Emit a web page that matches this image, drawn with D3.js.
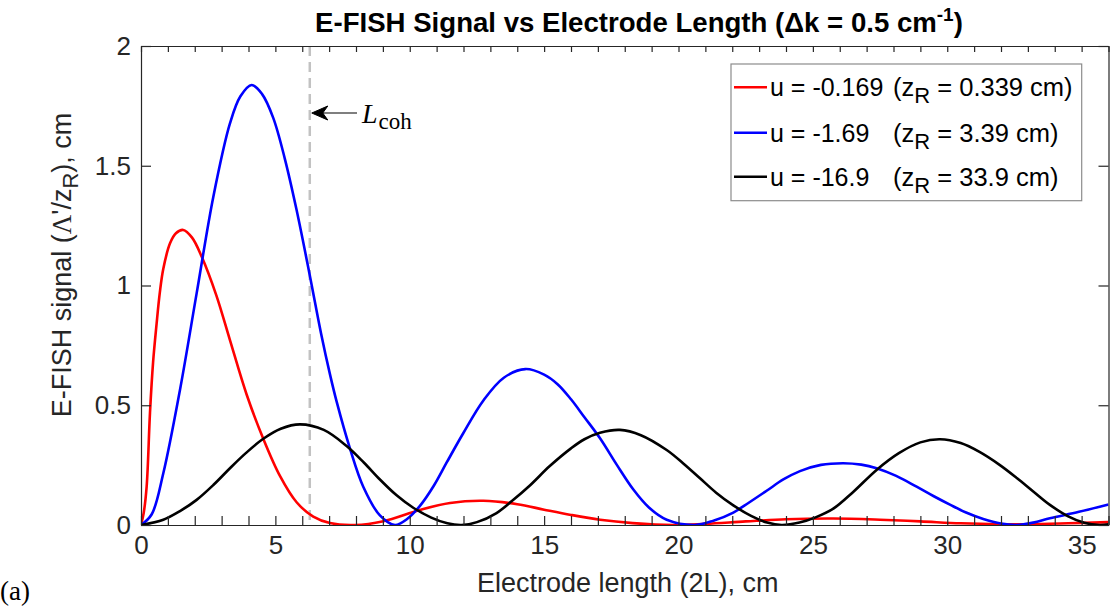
<!DOCTYPE html>
<html><head><meta charset="utf-8">
<script src="https://cdn.jsdelivr.net/npm/d3@7/dist/d3.min.js"></script>
<style>body{margin:0;background:#fff}svg{display:block}</style>
</head><body><svg id="c" width="1115" height="606"></svg>
<script>
// ---- data ----
const xDomain = [0, 36];
const yDomain = [0, 2];
const xTickValues = d3.range(0, 37, 1);
const xLabelValues = [0, 5, 10, 15, 20, 25, 30, 35];
const yTickValues = [0, 0.5, 1, 1.5, 2];
const lCoh = 6.28;

const seriesNames = ["u = -0.169", "u = -1.69", "u = -16.9"];
const seriesZR = ["0.339", "3.39", "33.9"];
const seriesColors = ["#ff0000", "#0000ff", "#000000"];

const redValues = [[0,0],[0.1,0.05],[0.21,0.16],[0.335,0.47],[0.45,0.68],[0.58,0.84],[0.7,0.97],[0.83,1.07],[1.08,1.176],[1.3,1.218],[1.57,1.232],[1.9,1.2],[2.26,1.12],[2.8,0.96],[3.31,0.772],[3.93,0.545],[4.55,0.36],[5.17,0.205],[5.79,0.095],[6.41,0.035],[7.03,0.008],[7.96,0],[9.02,0.016],[10.38,0.063],[11.5,0.092],[12.74,0.101],[14,0.087],[15,0.064],[16,0.042],[17.08,0.022],[18.3,0.008],[19.8,0],[21,0.005],[22.5,0.015],[24,0.024],[25.75,0.027],[27.5,0.022],[29,0.015],[30.5,0.007],[31.96,0.003],[33,0.003],[34.5,0.007],[36,0.012]];

const blueValues = [[0,0],[0.4,0.045],[0.83,0.216],[1.45,0.564],[2.07,0.967],[2.69,1.37],[3.31,1.677],[3.7,1.79],[4.12,1.837],[4.5,1.8],[4.92,1.7],[5.35,1.53],[5.79,1.315],[6.29,1.037],[6.7,0.8],[7.03,0.63],[7.28,0.515],[7.78,0.318],[8.27,0.16],[8.89,0.04],[9.45,0],[9.9,0.025],[10.38,0.08],[10.9,0.165],[11.37,0.26],[11.99,0.383],[12.74,0.52],[13.5,0.615],[14.3,0.651],[15,0.628],[15.5,0.588],[16,0.525],[16.5,0.45],[17.08,0.362],[17.7,0.252],[18.32,0.148],[18.9,0.073],[19.56,0.022],[20.61,0],[21.3,0.018],[22.04,0.052],[22.6,0.092],[23.28,0.143],[23.9,0.19],[24.52,0.225],[25.3,0.251],[26.13,0.258],[26.8,0.252],[27.37,0.237],[28.1,0.205],[28.86,0.16],[29.5,0.12],[30.1,0.085],[30.7,0.052],[31.34,0.025],[32,0.006],[32.58,0],[33.2,0.01],[33.82,0.028],[34.9,0.055],[36,0.086]];

const blackValues = [[0,0],[0.83,0.022],[1.45,0.058],[2.07,0.105],[2.7,0.168],[3.31,0.237],[3.9,0.3],[4.55,0.36],[5.2,0.402],[5.92,0.42],[6.8,0.397],[7.65,0.33],[8.3,0.26],[8.89,0.19],[9.5,0.125],[10.13,0.072],[10.8,0.031],[11.4,0.007],[11.93,0],[12.5,0.012],[13.23,0.05],[13.8,0.1],[14.47,0.165],[15.2,0.245],[16,0.32],[16.5,0.358],[17.08,0.385],[17.82,0.397],[18.6,0.375],[19.56,0.313],[20.2,0.255],[20.8,0.195],[21.4,0.135],[22.04,0.082],[22.7,0.038],[23.3,0.01],[23.84,0],[24.5,0.01],[25.1,0.032],[25.76,0.068],[26.5,0.138],[27.37,0.23],[28.2,0.3],[29,0.345],[29.73,0.358],[30.5,0.342],[31.2,0.305],[31.96,0.25],[32.6,0.195],[33.2,0.14],[33.82,0.084],[34.5,0.036],[35.1,0.009],[35.68,0],[36,0.003]];

const seriesValues = [redValues, blueValues, blackValues];

// ---- layout ----
const W = 1115, H = 606;
const m = {left: 141, right: 1108.5, top: 46, bottom: 525};
const FONT = "'Liberation Sans', Arial, Helvetica, sans-serif";
const SERIF = "'Liberation Serif', 'Times New Roman', serif";
const axisColor = "#262626";

const svg = d3.select("#c");
svg.append("rect").attr("width", W).attr("height", H).attr("fill", "#fff");

const x = d3.scaleLinear().domain(xDomain).range([m.left, m.right]);
const y = d3.scaleLinear().domain(yDomain).range([m.bottom, m.top]);

svg.append("clipPath").attr("id", "clip").append("rect")
  .attr("x", m.left).attr("y", m.top - 2).attr("width", m.right - m.left).attr("height", m.bottom - m.top + 3);

// dashed coherence line
svg.append("line")
  .attr("x1", x(lCoh)).attr("x2", x(lCoh)).attr("y1", y(2)).attr("y2", y(0))
  .attr("stroke", "#c2c2c2").attr("stroke-width", 2.5).attr("stroke-dasharray", "10,6");

// curves
const line = d3.line().x(d => x(d[0])).y(d => y(Math.max(0, d[1]))).curve(d3.curveCatmullRom.alpha(0.5));
const gLines = svg.append("g").attr("clip-path", "url(#clip)");
seriesValues.forEach((vals, i) => {
  gLines.append("path").datum(vals).attr("d", line)
    .attr("fill", "none").attr("stroke", seriesColors[i]).attr("stroke-width", 2.6)
    .attr("stroke-linejoin", "round");
});

// axes (box with inward ticks)
const axB = d3.axisBottom(x).tickValues(xTickValues).tickSizeInner(-9).tickSizeOuter(0)
  .tickFormat(d => xLabelValues.includes(d) ? d : "");
const axT = d3.axisTop(x).tickValues(xTickValues).tickSizeInner(-6).tickSizeOuter(0).tickFormat("");
const axL = d3.axisLeft(y).tickValues(yTickValues).tickSizeInner(-10).tickSizeOuter(0)
  .tickFormat(d => d3.format("")(d));
const axR = d3.axisRight(y).tickValues(yTickValues).tickSizeInner(-10).tickSizeOuter(0).tickFormat("");

function style(g) {
  g.select(".domain").attr("stroke", axisColor).attr("stroke-width", 1.2);
  g.selectAll(".tick line").attr("stroke", axisColor).attr("stroke-width", 1.2);
  g.selectAll(".tick text").attr("fill", axisColor).style("font-family", FONT).style("font-size", "26px");
}
svg.append("g").attr("transform", `translate(0,${m.bottom})`).call(axB).call(style)
  .selectAll(".tick text").attr("dy", "0.95em").attr("y", 4);
svg.append("g").attr("transform", `translate(0,${m.top})`).call(axT).call(style);
svg.append("g").attr("transform", `translate(${m.left},0)`).call(axL).call(style)
  .selectAll(".tick text").attr("x", -10);
svg.append("g").attr("transform", `translate(${m.right},0)`).call(axR).call(style);

// title
const title = svg.append("text").attr("x", 639).attr("y", 32).attr("text-anchor", "middle")
  .style("font-family", FONT).style("font-size", "27.6px").style("font-weight", "bold").attr("fill", "#000");
title.append("tspan").text("E-FISH Signal vs Electrode Length (\u0394k = 0.5 cm");
title.append("tspan").text("-1").attr("dy", -11).style("font-size", "19px");
title.append("tspan").text(")").attr("dy", 11);

// axis labels
svg.append("text").attr("x", (m.left + m.right) / 2 + 3).attr("y", 592).attr("text-anchor", "middle")
  .style("font-family", FONT).style("font-size", "27px").attr("fill", axisColor)
  .text("Electrode length (2L), cm");

const yl = svg.append("text").attr("transform", "translate(71,265) rotate(-90)").attr("text-anchor", "middle")
  .style("font-family", FONT).style("font-size", "27px").attr("fill", axisColor);
yl.append("tspan").text("E-FISH signal (");
yl.append("tspan").text("\u039B").style("font-family", SERIF);
yl.append("tspan").text("'/z");
yl.append("tspan").text("R").attr("dy", 7).style("font-size", "22px");
yl.append("tspan").text("), cm").attr("dy", -7);

// (a)
svg.append("text").attr("x", 0).attr("y", 600).style("font-family", SERIF).style("font-size", "27px")
  .attr("fill", "#000").text("(a)");

// L_coh annotation
const ax0 = x(lCoh) + 2, ay = 113;
svg.append("line").attr("x1", ax0 + 10).attr("x2", 357).attr("y1", ay).attr("y2", ay)
  .attr("stroke", "#000").attr("stroke-width", 1.2);
svg.append("path")
  .attr("d", `M${ax0},${ay} L${ax0 + 16},${ay - 7} L${ax0 + 11},${ay} L${ax0 + 16},${ay + 7} Z`)
  .attr("fill", "#000").attr("stroke", "#000").attr("stroke-width", 1).attr("stroke-linejoin", "miter");
const lc = svg.append("text").attr("x", 362).attr("y", 123).style("font-family", SERIF).style("font-size", "28px").attr("fill", "#000");
lc.append("tspan").text("L").style("font-style", "italic");
lc.append("tspan").text("coh").attr("dy", 6).attr("dx", 1).style("font-size", "23px");

// legend
const lg = svg.append("g");
lg.append("rect").attr("x", 731).attr("y", 64).attr("width", 1081.7 - 731).attr("height", 200.7 - 64)
  .attr("fill", "#fff").attr("stroke", "#8c8c8c").attr("stroke-width", 1.2);
const legY = [87.3, 132.7, 176.7];
seriesNames.forEach((nm, i) => {
  lg.append("line").attr("x1", 734).attr("x2", 767).attr("y1", legY[i]).attr("y2", legY[i])
    .attr("stroke", seriesColors[i]).attr("stroke-width", 2.6);
  lg.append("text").attr("x", 770).attr("y", legY[i] + 9).style("font-family", FONT).style("font-size", "25px")
    .attr("fill", "#000").text(nm);
  const t = lg.append("text").attr("x", 893).attr("y", legY[i] + 9).style("font-family", FONT).style("font-size", "25.5px").attr("fill", "#000");
  t.append("tspan").text("(z");
  t.append("tspan").text("R").attr("dy", 7).style("font-size", "22px");
  t.append("tspan").text(" = " + seriesZR[i] + " cm)").attr("dy", -7);
});
</script>
</body></html>
